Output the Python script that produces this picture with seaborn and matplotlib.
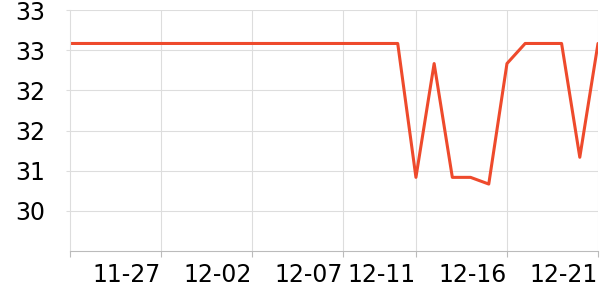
import matplotlib
matplotlib.use("Agg")
import matplotlib.pyplot as plt
import seaborn as sns
import pandas as pd

dates = ["11-22", "11-23", "11-24", "11-25", "11-26", "11-27", "11-28", "11-29", "11-30",
         "12-01", "12-02", "12-03", "12-04", "12-05", "12-06", "12-07", "12-08", "12-09",
         "12-10", "12-11", "12-12", "12-13", "12-14", "12-15", "12-16", "12-17", "12-18",
         "12-19", "12-20", "12-21"]
values = [32.9] * 19 + [30.9, 32.6, 30.9, 30.9, 30.8, 32.6, 32.9, 32.9, 32.9, 31.2, 32.9]
xtick_labels = ["11-27", "12-02", "12-07", "12-11", "12-16", "12-21"]
ytick_values = [30.4, 31.0, 31.6, 32.2, 32.8, 33.4]
ytick_labels = ["30", "31", "32", "32", "33", "33"]

df = pd.DataFrame({"idx": range(len(dates)), "date": dates, "value": values})

sns.set_theme(style="white")
plt.rcParams["font.family"] = ["DejaVu Sans"]

fig = plt.figure(figsize=(6, 3), dpi=100)
ax = fig.add_axes([70 / 600, 49 / 300, 528 / 600, 241 / 300])

sns.lineplot(data=df, x="idx", y="value", ax=ax, color="#EE4A2C", linewidth=2.2)

ax.set_xlim(0, len(dates) - 1)
ax.set_ylim(29.8, 33.4)

xt = [dates.index(l) for l in xtick_labels]
ax.set_xticks(xt)
ax.set_xticklabels(xtick_labels, ha="right", fontsize=17, color="black")
ax.set_xticks([0], minor=True)
ax.set_yticks(ytick_values)
ax.set_yticklabels(ytick_labels, fontsize=17, color="black")

ax.grid(True, color="#dddddd", linewidth=0.8)
ax.tick_params(axis="x", which="both", bottom=True, length=4, width=0.8, color="#bbbbbb", pad=5)
ax.tick_params(axis="y", left=True, length=3, width=0.8, color="#dddddd", pad=15)

for s in ["top", "right"]:
    ax.spines[s].set_visible(False)
ax.spines["left"].set_color("#dddddd")
ax.spines["left"].set_linewidth(0.8)
ax.spines["bottom"].set_color("#bbbbbb")
ax.spines["bottom"].set_linewidth(0.8)

ax.set_xlabel("")
ax.set_ylabel("")

fig.savefig("out.png", dpi=100)
